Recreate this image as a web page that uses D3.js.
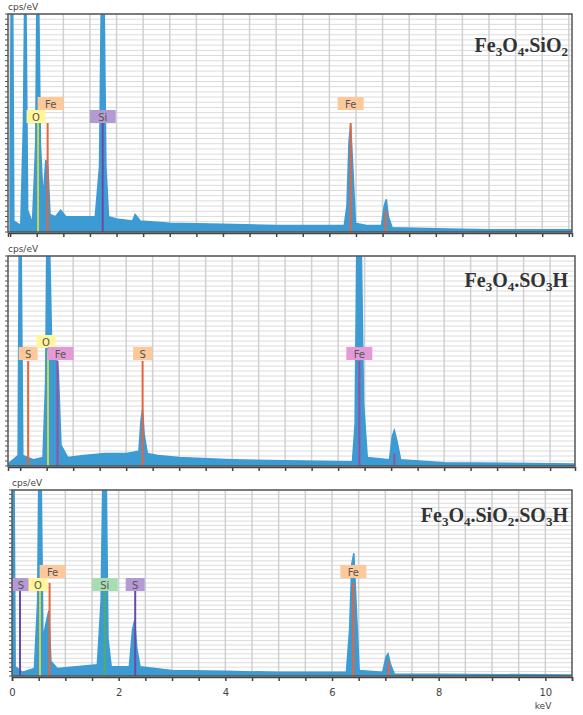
<!DOCTYPE html>
<html><head><meta charset="utf-8">
<script src="https://cdn.jsdelivr.net/npm/d3@7"></script>
<style>body{margin:0;background:#fff}svg{display:block}</style>
</head><body>
<svg id="c" width="583" height="715"></svg>
<script>
// spectra: [keV, fraction of panel height] (values > 1 are clipped)
var spec1 = [[0,0.3],[0.02,1.2],[0.05,1.2],[0.07,0.05],[0.2,0.03],[0.25,0.5],[0.27,1.2],[0.3,1.2],[0.33,0.1],[0.42,0.04],[0.48,0.4],[0.5,1.2],[0.54,1.2],[0.57,0.4],[0.62,0.15],[0.67,0.33],[0.71,0.3],[0.75,0.08],[0.85,0.07],[0.95,0.1],[1.05,0.07],[1.3,0.07],[1.6,0.07],[1.68,0.3],[1.71,1.2],[1.77,1.2],[1.8,0.3],[1.85,0.07],[2.0,0.06],[2.3,0.05],[2.35,0.08],[2.45,0.05],[3,0.04],[4,0.035],[5,0.03],[6.28,0.03],[6.33,0.12],[6.37,0.42],[6.4,0.49],[6.44,0.3],[6.49,0.04],[6.7,0.03],[6.98,0.03],[7.03,0.12],[7.07,0.15],[7.11,0.07],[7.18,0.02],[8,0.015],[9,0.01],[10.6,0.01]];
var spec2 = [[-0.23,0.01],[-0.04,0.05],[-0.02,1.2],[0.02,1.2],[0.05,0.05],[0.25,0.03],[0.43,0.04],[0.48,0.4],[0.5,1.2],[0.56,1.2],[0.6,0.5],[0.67,0.55],[0.72,0.45],[0.77,0.1],[0.9,0.04],[1.2,0.05],[1.6,0.06],[2.0,0.06],[2.24,0.07],[2.28,0.22],[2.31,0.27],[2.34,0.15],[2.4,0.06],[2.6,0.05],[3,0.04],[4,0.03],[5,0.025],[6.27,0.02],[6.32,0.2],[6.35,1.2],[6.44,1.2],[6.48,0.3],[6.55,0.04],[6.97,0.03],[7.02,0.14],[7.06,0.17],[7.11,0.12],[7.18,0.03],[8,0.015],[10.5,0.01]];
var spec3 = [[0,0.2],[0.02,1.2],[0.04,1.2],[0.06,0.05],[0.2,0.02],[0.42,0.04],[0.48,0.4],[0.5,1.2],[0.55,1.2],[0.58,0.2],[0.65,0.3],[0.69,0.35],[0.73,0.08],[0.85,0.04],[1.2,0.05],[1.6,0.06],[1.67,0.4],[1.7,1.2],[1.77,1.2],[1.8,0.2],[1.86,0.05],[2.2,0.05],[2.26,0.25],[2.3,0.3],[2.34,0.15],[2.4,0.05],[3,0.03],[4,0.025],[5,0.02],[6.27,0.02],[6.33,0.25],[6.37,0.6],[6.41,0.66],[6.45,0.4],[6.51,0.03],[6.95,0.02],[7.01,0.1],[7.05,0.12],[7.1,0.06],[7.17,0.01],[8,0.01],[10.5,0.005]];
// element markers: [label, keV, line height, colour key]
var lines1 = [["O",0.525,0.5,"o"],["Fe",0.705,0.5,"fe"],["Si",1.74,0.5,"si"],["Fe",6.4,0.5,"fe"],["",7.06,0.1,"fe"]];
var lines2 = [["S",0.15,0.5,"fe"],["O",0.525,0.55,"o"],["Fe",0.705,0.5,"fe2"],["S",2.31,0.5,"fe"],["Fe",6.4,0.5,"fe2"],["",7.06,0.06,"fe2"]];
var lines3 = [["S",0.15,0.5,"si"],["O",0.525,0.5,"o"],["Fe",0.705,0.5,"fe"],["Si",1.74,0.5,"si2"],["S",2.31,0.5,"si"],["Fe",6.4,0.5,"fe"],["",7.06,0.08,"fe"]];
var titles = [["Fe","3","O","4",".SiO","2"],["Fe","3","O","4",".SO","3","H"],["Fe","3","O","4",".SiO","2",".SO","3","H"]];
var xTicks = [0,2,4,6,8,10];

var col = {o:["#c8d84a","#fff59a"], fe:["#e8643c","#fdc99a"], fe2:["#9a4fa0","#e59ad8"], si:["#6a4aa8","#b39ad3"], si2:["#4cae6a","#a9dcb3"]};
var svg = d3.select("#c");

var panels = [
  {spec:spec1, lines:lines1, title:titles[0], top:14, bot:232, left:8, right:572, dom:[-0.04,10.56], lblY:[97,110], ty:52},
  {spec:spec2, lines:lines2, title:titles[1], top:256, bot:466, left:8, right:575, dom:[-0.23,10.47], lblY:[335,347], ty:287},
  {spec:spec3, lines:lines3, title:titles[2], top:490, bot:676, left:12, right:572, dom:[0,10.5], lblY:[565,578], ty:522}
];

panels.forEach(function(p, pi) {
  var x = d3.scaleLinear().domain(p.dom).range([p.left, p.right]);
  var y = d3.scaleLinear().domain([0,1]).range([p.bot, p.top]).clamp(true);
  var g = svg.append("g");
  var cid = "clip" + pi;
  g.append("clipPath").attr("id", cid).append("rect")
    .attr("x", p.left).attr("y", p.top).attr("width", p.right-p.left).attr("height", p.bot-p.top);
  // grid
  d3.range(0, 1.0001, 1/42).forEach(function(v) {
    g.append("line").attr("x1", p.left).attr("x2", p.right).attr("y1", y(v)).attr("y2", y(v))
      .attr("stroke", "#dcdcdc").attr("stroke-width", 1);
  });
  d3.range(0, 10.6, 0.5).filter(function(v){return x(v) > p.left && x(v) < p.right;}).forEach(function(v) {
    g.append("line").attr("x1", x(v)).attr("x2", x(v)).attr("y1", p.top).attr("y2", p.bot)
      .attr("stroke", "#d0d0d0").attr("stroke-width", 1.5);
  });
  // spectrum
  var area = d3.area().x(function(d){return x(d[0]);}).y0(p.bot).y1(function(d){return y(d[1]);});
  g.append("path").datum(p.spec).attr("clip-path", "url(#"+cid+")")
    .attr("d", area).attr("fill", "#3d9bd3").attr("stroke", "#3d9bd3").attr("stroke-width", 1.5);
  // element lines
  p.lines.forEach(function(l) {
    g.append("line").attr("x1", x(l[1])).attr("x2", x(l[1]))
      .attr("y1", p.bot).attr("y2", y(l[2])).attr("stroke", col[l[3]][0]).attr("stroke-width", 2);
  });
  // label boxes
  p.lines.forEach(function(l) {
    if (!l[0]) return;
    var yy = (l[0] === "Fe" && pi !== 1) || (l[0] === "O" && pi === 1) ? p.lblY[0] : p.lblY[1];
    var w = l[0].length > 1 ? 26 : 19;
    var cx = x(l[1]) + (l[0] === "Fe" && l[1] < 1 ? 3 : 0);
    if (pi === 2 && l[0] === "S" && l[1] < 1) cx = 21;
    if (l[0] === "O") cx = x(l[1]) - 2;
    g.append("rect").attr("x", cx - w/2).attr("y", yy).attr("width", w).attr("height", 13)
      .attr("fill", col[l[3]][1]);
    g.append("text").attr("x", cx).attr("y", yy + 10.5).attr("text-anchor", "middle")
      .attr("font-family", "DejaVu Sans").attr("font-size", 10).attr("fill", "#555").text(l[0]);
  });
  // border
  g.append("rect").attr("x", p.left).attr("y", p.top).attr("width", p.right-p.left).attr("height", p.bot-p.top)
    .attr("fill", "none").attr("stroke", "#555").attr("stroke-width", 1.5);
  // y minor ticks
  d3.range(0, 1.0001, 1/42).forEach(function(v) {
    g.append("line").attr("x1", p.left-3).attr("x2", p.left).attr("y1", y(v)).attr("y2", y(v))
      .attr("stroke", "#555");
  });
  // x axis
  var ax = d3.axisBottom(x).tickValues(d3.range(0, 10.6, 0.5).filter(function(v){return x(v) >= p.left && x(v) <= p.right;}))
    .tickSize(4).tickFormat(function(v){ return (pi === 2 && xTicks.indexOf(v) >= 0) ? v : ""; });
  var axg = g.append("g").attr("transform", "translate(0," + (p.bot+1) + ")").call(ax);
  axg.select(".domain").attr("stroke", "#444").attr("stroke-width", 1.5);
  axg.selectAll(".tick line").attr("stroke", "#444").attr("stroke-width", 1.5);
  axg.selectAll("text").attr("font-family", "DejaVu Sans").attr("font-size", 10).attr("fill", "#444").attr("dy", "1.2em");
  // y label
  svg.append("text").attr("x", p.left).attr("y", p.top - 4).attr("font-family", "DejaVu Sans")
    .attr("font-size", 9).attr("fill", "#444").text("cps/eV");
  // title
  var t = svg.append("text").attr("x", 568).attr("y", p.ty).attr("text-anchor", "end")
    .attr("font-family", "Liberation Serif").attr("font-weight", "bold").attr("font-size", 20).attr("fill", "#333");
  p.title.forEach(function(s) {
    var sub = /^[0-9]$/.test(s);
    t.append("tspan").attr("font-size", sub ? 13 : 20).attr("dy", sub ? 4 : (s === p.title[0] ? 0 : -4)).text(s);
  });
});
svg.append("text").attr("x", 543).attr("y", 709).attr("font-family", "DejaVu Sans").attr("font-size", 9)
  .attr("fill", "#444").attr("text-anchor", "middle").text("keV");
</script>
</body></html>
